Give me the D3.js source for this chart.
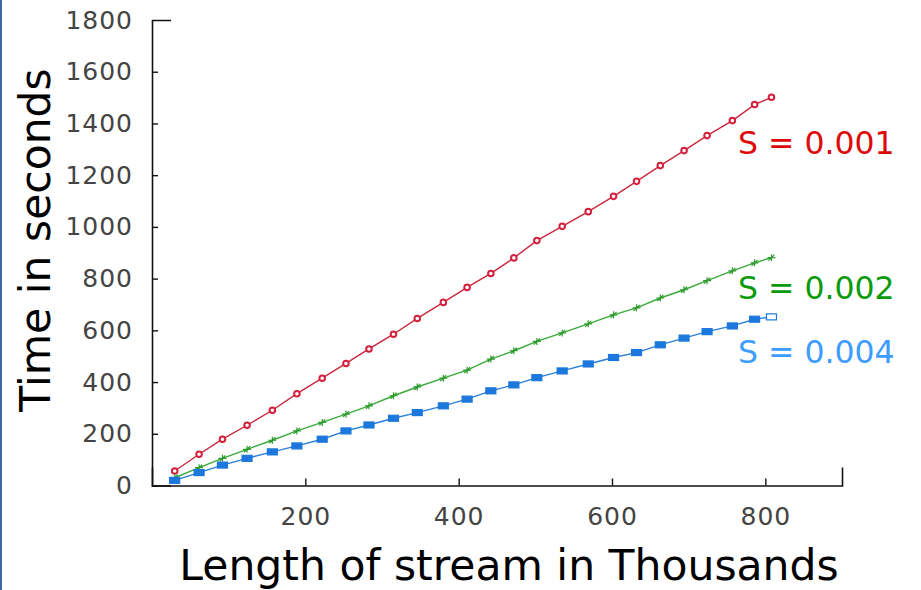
<!DOCTYPE html>
<html>
<head>
<meta charset="utf-8">
<script src="https://cdn.jsdelivr.net/npm/d3@7"></script>
<style>
  html, body { margin: 0; padding: 0; background: #fff; }
  svg { display: block; }
</style>
</head>
<body>
<svg id="chart" width="921" height="590"></svg>
<script>
// ---- data ----
const lengths = [29.6, 61.4, 91.9, 124, 157, 189, 222, 253, 283, 315, 346, 380, 411, 442, 472, 502, 535, 569, 602, 632, 663, 694, 724, 757, 786, 808];
const timeS001 = [56, 121, 179, 233, 291, 355, 415, 472, 528, 585, 646, 708, 766, 820, 880, 947, 1002, 1059, 1118, 1176, 1237, 1295, 1353, 1411, 1473, 1501];
const timeS002 = [30, 69, 105, 140, 175, 211, 244, 276, 308, 347, 381, 415, 446, 489, 521, 557, 590, 625, 660, 687, 725, 757, 792, 830, 861, 881];
const timeS004 = [20, 50, 79, 105, 130, 153, 179, 211, 234, 260, 282, 308, 334, 366, 389, 417, 443, 470, 495, 514, 544, 570, 595, 617, 643, 652];
const seriesNames = ["S = 0.001", "S = 0.002", "S = 0.004"];
const xTicks = [200, 400, 600, 800];
const yTicks = [0, 200, 400, 600, 800, 1000, 1200, 1400, 1600, 1800];
const xTitle = "Length of stream in Thousands";
const yTitle = "Time in seconds";

const svg = d3.select("#chart");

// left blue border
svg.append("rect").attr("x", 0).attr("y", 0).attr("width", 2).attr("height", 590).attr("fill", "#3a6aa2");

const x = d3.scaleLinear().domain([0, 900]).range([152, 842]);
const y = d3.scaleLinear().domain([0, 1800]).range([485.5, 20]);

const font = "'DejaVu Sans', Verdana, sans-serif";

// axes
const yAxis = d3.axisLeft(y).tickValues(yTicks).tickFormat(d3.format("d"))
  .tickSizeInner(-6).tickSizeOuter(-19).tickPadding(19);
const xAxis = d3.axisBottom(x).tickValues(xTicks).tickFormat(d3.format("d"))
  .tickSizeInner(-7).tickSizeOuter(-18).tickPadding(22);

const gy = svg.append("g").attr("transform", `translate(${x(0)},0)`).call(yAxis);
const gx = svg.append("g").attr("transform", `translate(0,${y(0)})`).call(xAxis);

[gx, gy].forEach(g => {
  g.select(".domain").attr("stroke", "#111").attr("stroke-width", 1.6);
  g.selectAll(".tick line").attr("stroke", "#111").attr("stroke-width", 1.4);
  g.selectAll(".tick text").attr("fill", "#444").style("font-family", font)
    .style("font-size", "25px").style("letter-spacing", "1px");
});
gy.selectAll(".tick").filter(d => d === 1800).select("line").remove();

// series
const series = [
  { name: seriesNames[0], values: timeS001, line: "#c8283a", mark: "#d4203c", label: "#dd0a0a", ly: 154, type: "circle" },
  { name: seriesNames[1], values: timeS002, line: "#3aaa3a", mark: "#2c9a2c", label: "#0a9a0a", ly: 299, type: "cross" },
  { name: seriesNames[2], values: timeS004, line: "#2a7fd8", mark: "#1c78dc", label: "#3d9cff", ly: 362.5, type: "rect" }
];

const lineGen = d3.line().x(d => x(d[0])).y(d => y(d[1]));

series.forEach(s => {
  const pts = lengths.map((l, i) => [l, s.values[i]]);
  const g = svg.append("g");
  g.append("path").datum(pts).attr("d", lineGen)
    .attr("fill", "none").attr("stroke", s.line).attr("stroke-width", 1.4);
  if (s.type === "circle") {
    g.selectAll("circle").data(pts).join("circle")
      .attr("cx", d => x(d[0])).attr("cy", d => y(d[1])).attr("r", 2.8)
      .attr("fill", "#fff").attr("stroke", s.mark).attr("stroke-width", 2);
  } else if (s.type === "cross") {
    g.selectAll("path.m").data(pts).join("path").attr("class", "m")
      .attr("d", d => {
        const cx = x(d[0]), cy = y(d[1]);
        return `M${cx-4},${cy}L${cx+4},${cy}M${cx},${cy-3.5}L${cx},${cy+3.5}M${cx-3},${cy+3}L${cx+3},${cy-3}`;
      })
      .attr("fill", "none").attr("stroke", s.mark).attr("stroke-width", 1.2);
  } else {
    g.selectAll("rect").data(pts).join("rect")
      .attr("x", d => x(d[0]) - 5).attr("y", d => y(d[1]) - 3)
      .attr("width", 10).attr("height", 6)
      .attr("fill", (d, i) => i === pts.length - 1 ? "#fff" : s.mark)
      .attr("stroke", s.mark).attr("stroke-width", 1.2);
  }
  svg.append("text").attr("x", 738).attr("y", s.ly)
    .attr("fill", s.label).style("font-family", font).style("font-size", "31.5px")
    .text(s.name);
});

// titles
svg.append("text").attr("x", 509).attr("y", 580).attr("text-anchor", "middle")
  .attr("fill", "#000").style("font-family", font).style("font-size", "42.5px").text(xTitle);
svg.append("text").attr("transform", "translate(50,240) rotate(-90)").attr("text-anchor", "middle")
  .attr("fill", "#000").style("font-family", font).style("font-size", "42.5px").text(yTitle);
</script>
</body>
</html>
